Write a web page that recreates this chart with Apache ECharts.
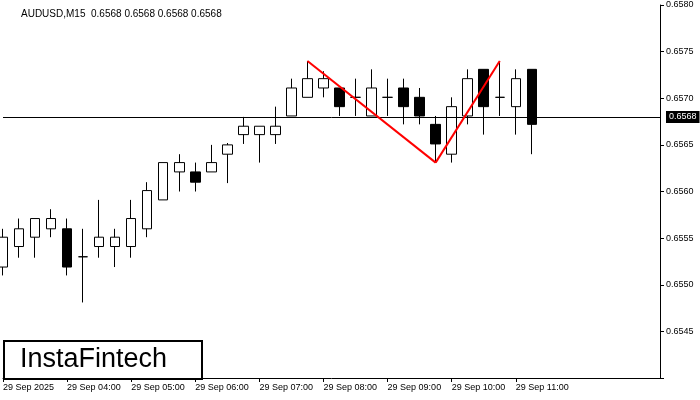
<!DOCTYPE html>
<html><head><meta charset="utf-8">
<script src="https://cdn.jsdelivr.net/npm/echarts@6/dist/echarts.min.js"></script>
<style>html,body{margin:0;padding:0;background:#fff}#c{width:700px;height:400px}</style>
</head><body><div id="c"></div>
<script>
const times = ['03:00','03:15','03:30','03:45','04:00','04:15','04:30','04:45','05:00','05:15','05:30','05:45','06:00','06:15','06:30','06:45','07:00','07:15','07:30','07:45','08:00','08:15','08:30','08:45','09:00','09:15','09:30','09:45','10:00','10:15','10:30','10:45','11:00','11:15','11:30','11:45','12:00','12:15','12:30','12:45','13:00','13:15'];
const opens  = [0.65519,0.65541,0.65551,0.65560,0.65560,0.65530,0.65541,0.65541,0.65541,0.65560,0.65591,0.65621,0.65621,0.65621,0.65640,0.65661,0.65661,0.65661,0.65681,0.65701,0.65711,0.65711,0.65701,0.65681,0.65701,0.65711,0.65701,0.65672,0.65640,0.65681,0.65731,0.65701,0.65691,0.65731];
const closes = [0.65551,0.65560,0.65571,0.65571,0.65519,0.65530,0.65551,0.65551,0.65571,0.65601,0.65631,0.65631,0.65610,0.65631,0.65650,0.65670,0.65670,0.65670,0.65711,0.65721,0.65721,0.65691,0.65701,0.65711,0.65701,0.65691,0.65681,0.65651,0.65691,0.65721,0.65691,0.65701,0.65721,0.65672];
const lows   = [0.65510,0.65529,0.65529,0.65551,0.65510,0.65481,0.65529,0.65519,0.65529,0.65551,0.65591,0.65600,0.65600,0.65621,0.65609,0.65651,0.65631,0.65651,0.65681,0.65701,0.65701,0.65681,0.65681,0.65681,0.65681,0.65672,0.65672,0.65631,0.65631,0.65672,0.65661,0.65681,0.65661,0.65640];
const highs  = [0.65560,0.65571,0.65571,0.65581,0.65571,0.65560,0.65591,0.65560,0.65591,0.65610,0.65631,0.65640,0.65631,0.65650,0.65652,0.65680,0.65670,0.65691,0.65721,0.65740,0.65729,0.65711,0.65721,0.65731,0.65721,0.65721,0.65711,0.65681,0.65701,0.65731,0.65731,0.65740,0.65731,0.65731];
const priceTicks = [0.6545,0.6550,0.6555,0.6560,0.6565,0.6570,0.6575,0.6580];
const currentPrice = 0.6568;
const patternPts = [[19,0.65740],[27,0.65631],[31,0.65740]];

const data = opens.map((o,i)=>[o,closes[i],lows[i],highs[i]]);
const chart = echarts.init(document.getElementById('c'));
chart.setOption({
  animation:false,
  backgroundColor:'#fff',
  textStyle:{fontFamily:'Liberation Sans, Arial'},
  title:{text:'AUDUSD,M15  0.6568 0.6568 0.6568 0.6568',left:16,top:4,textStyle:{fontSize:10,fontWeight:'normal',color:'#000'}},
  grid:{left:2,right:40,top:5,bottom:22},
  xAxis:{type:'category',data:times,boundaryGap:false,
    axisLine:{lineStyle:{color:'#000'}},
    axisTick:{interval:(i)=> i%4===0 && i<=32,length:4,lineStyle:{color:'#000'}},
    axisLabel:{interval:(i)=> i%4===0 && i<=32,align:'left',fontSize:9,color:'#000',margin:5,
      formatter:(v,i)=> i===0?'29 Sep 2025':'29 Sep '+v},
    splitLine:{show:false}},
  yAxis:{type:'value',position:'right',min:0.6540,max:0.6580,interval:0.0005,
    axisLine:{show:true,lineStyle:{color:'#000'}},
    axisTick:{show:true,length:4,lineStyle:{color:'#000'}},
    axisLabel:{fontSize:9,color:'#000',margin:6,formatter:v=> v<=0.65401?'':v.toFixed(4)},
    splitLine:{show:false}},
  series:[{
    type:'candlestick',data:data,barWidth:10,
    itemStyle:{color:'#fff',color0:'#000',borderColor:'#000',borderColor0:'#000',borderWidth:1},
    markLine:{symbol:'none',silent:true,
      data:[
        [{xAxis:0,yAxis:currentPrice},{xAxis:41,yAxis:currentPrice,
          lineStyle:{color:'#000',width:1,type:'solid'},
          label:{show:true,position:'end',formatter:currentPrice.toFixed(4),distance:6,
            backgroundColor:'#000',color:'#fff',fontSize:9,padding:[2,3,1,3]}}],
        [{coord:patternPts[0]},{coord:patternPts[1],lineStyle:{color:'#f00',width:2,type:'solid'},label:{show:false}}],
        [{coord:patternPts[1]},{coord:patternPts[2],lineStyle:{color:'#f00',width:2,type:'solid'},label:{show:false}}]
      ]}
  }],
  graphic:[{type:'group',left:3,top:340,children:[
    {type:'rect',shape:{x:0,y:0,width:198,height:38},style:{fill:'#fff',stroke:'#000',lineWidth:2}},
    {type:'text',x:16,y:5,style:{text:'InstaFintech',fontSize:27,fontFamily:'Liberation Sans, Arial',fill:'#000'}}
  ]}]
});
</script></body></html>
